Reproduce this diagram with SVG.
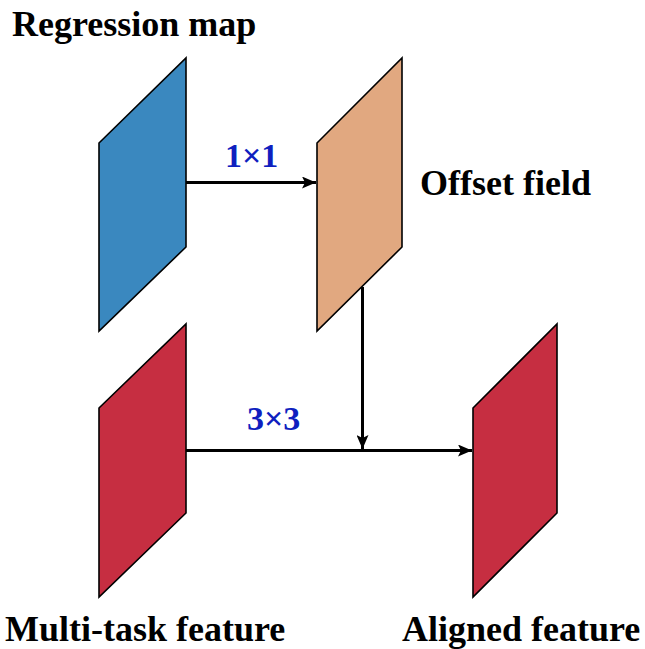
<svg xmlns="http://www.w3.org/2000/svg" width="645" height="649" viewBox="0 0 645 649">
<style>
.pl{stroke:#000;stroke-width:1.6;stroke-linejoin:miter}
.lbl{font-family:"Liberation Serif","Times New Roman",serif;font-weight:bold;font-size:36px;fill:#000}
.op{font-family:"Liberation Serif","Times New Roman",serif;font-weight:bold;font-size:34px;fill:#0F1FBF}
.cn{stroke:#000;stroke-width:3;fill:none}
</style>
<defs>
<marker id="ah" viewBox="0 0 14 12" refX="14" refY="6" markerWidth="14" markerHeight="12" markerUnits="userSpaceOnUse" orient="auto">
<path d="M0,0 L14,6 L0,12 L3,6 Z" fill="#000"/>
</marker>
</defs>
<g id="regression-map">
<polygon class="pl" points="99,143 186,58 186,247 99,331" fill="#3A88BF"/>
<text class="lbl" x="12" y="36">Regression map</text>
</g>
<g id="offset-field">
<polygon class="pl" points="317,143 402,58 402,247 317,331" fill="#E1A880"/>
<text class="lbl" x="420" y="195">Offset field</text>
</g>
<g id="multi-task-feature">
<polygon class="pl" points="99,408 186,324 186,513 99,597" fill="#C62E41"/>
<text class="lbl" x="5" y="641">Multi-task feature</text>
</g>
<g id="aligned-feature">
<polygon class="pl" points="473,408 557,324 557,513 473,597" fill="#C62E41"/>
<text class="lbl" x="402" y="641">Aligned feature</text>
</g>
<g id="connectors">
<line class="cn" x1="186" y1="182.5" x2="316" y2="182.5" marker-end="url(#ah)"/>
<line class="cn" x1="362.5" y1="287" x2="362.5" y2="449" marker-end="url(#ah)"/>
<line class="cn" x1="186" y1="450.5" x2="472" y2="450.5" marker-end="url(#ah)"/>
<text class="op" x="225" y="166.5">1×1</text>
<text class="op" x="247" y="430">3×3</text>
</g>
</svg>
